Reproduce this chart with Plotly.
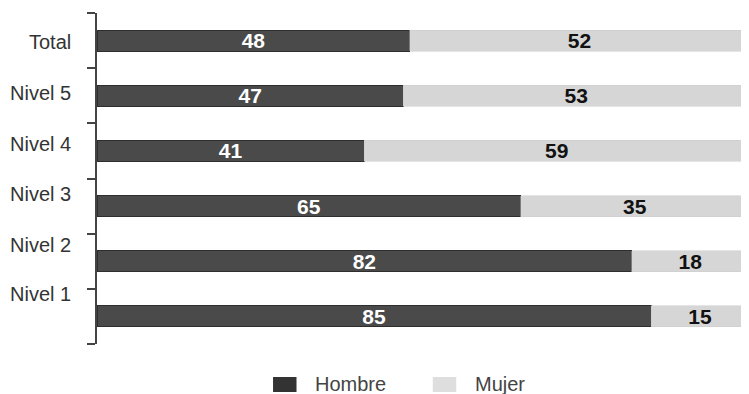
import plotly.graph_objects as go

categories = ["Total", "Nivel 5", "Nivel 4", "Nivel 3", "Nivel 2", "Nivel 1"]
hombre = [48, 47, 41, 65, 82, 85]
mujer = [52, 53, 59, 35, 18, 15]
series_names = ["Hombre", "Mujer"]
label_shift = [-1, 3, 7, 12, 16, 22]

C_H = "#4a4a4a"
C_M = "#d6d6d6"
LEG_COLORS = ["#333333", "#dedede"]
FONT = "Liberation Sans"

fig = go.Figure()
fig.add_trace(go.Bar(
    y=categories, x=hombre, orientation="h", name=series_names[0],
    marker=dict(color=C_H, line=dict(color="#2e2e2e", width=1)),
    text=[str(v) for v in hombre], textposition="inside", insidetextanchor="middle",
    textangle=0, constraintext="none",
    textfont=dict(family=FONT, size=21, color="white", weight="bold"),
    showlegend=False, width=0.38,
))
fig.add_trace(go.Bar(
    y=categories, x=mujer, orientation="h", name=series_names[1],
    marker=dict(color=C_M, line=dict(color="#cccccc", width=0.5)),
    text=[str(v) for v in mujer], textposition="inside", insidetextanchor="middle",
    textangle=0, constraintext="none",
    textfont=dict(family=FONT, size=21, color="#111111", weight="bold"),
    showlegend=False, width=0.38,
))

# category labels (scanned layout: labels drift upward)
for cat, s in zip(categories, label_shift):
    fig.add_annotation(xref="paper", x=0, y=cat, yref="y", text=cat, showarrow=False,
                       xanchor="right", xshift=-24, yshift=s,
                       font=dict(family=FONT, size=20, color="#333333"))

# manual legend (kept inside the bottom margin)
leg_x = [0.270, 0.515]
for name, col, x0 in zip(series_names, LEG_COLORS, leg_x):
    fig.add_shape(type="rect", xref="paper", yref="paper",
                  x0=x0, x1=x0 + 0.036, y0=-0.145, y1=-0.0997,
                  fillcolor=col, line=dict(width=0))
    fig.add_annotation(xref="paper", yref="paper", x=x0 + 0.061, y=-0.122,
                       text=name, showarrow=False, xanchor="left", yanchor="middle",
                       font=dict(family=FONT, size=20, color="#444444"))

fig.update_layout(
    width=741, height=386,
    margin=dict(l=89, r=0, t=5, b=50),
    barmode="stack",
    showlegend=False,
    plot_bgcolor="white", paper_bgcolor="white",
    font=dict(family=FONT, size=20, color="#333333"),
    xaxis=dict(range=[0, 100], visible=False, fixedrange=True),
    yaxis=dict(categoryorder="array", categoryarray=categories[::-1],
               range=[-0.5, 5.5], showticklabels=False, showline=True,
               linecolor="#444444", linewidth=1.5, ticks="outside",
               tickson="boundaries", ticklen=8, tickcolor="#444444", tickwidth=1.5,
               showgrid=False, zeroline=False),
)

fig.write_html("out.html")
